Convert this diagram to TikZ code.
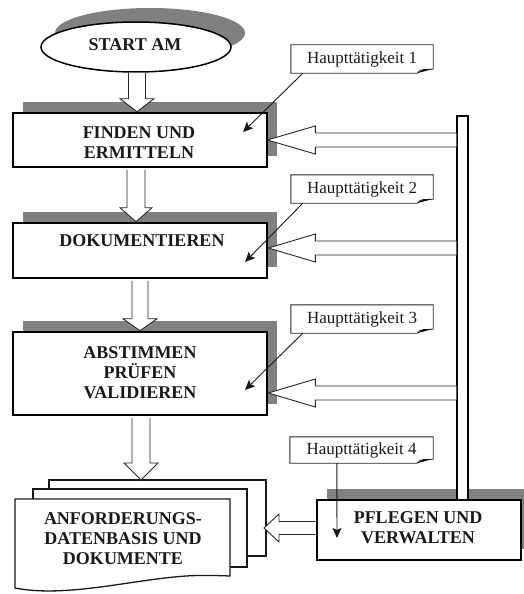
\documentclass[tikz,border=0pt]{standalone}
\usepackage{fontspec}
\setmainfont{Liberation Serif}
\usetikzlibrary{calc,shadows,shapes.geometric,arrows.meta}

\definecolor{shade}{gray}{0.5}

% hollow block arrow pointing down: shaft from the y of #1, tip at #2
\newcommand\downblock[5]{%
  \filldraw[blockline] let \p1=(#1), \p2=(#2) in
    (\x2-#3,\y1) -- (\x2-#3,\y2+#5) -- (\x2-#4,\y2+#5) -- (\x2,\y2)
    -- (\x2+#4,\y2+#5) -- (\x2+#3,\y2+#5) -- (\x2+#3,\y1);}

% hollow block arrow pointing left: shaft from the x of #1, tip at #2
\newcommand\leftblock[5]{%
  \filldraw[blockline] let \p1=(#1), \p2=(#2) in
    (\x1,\y2+#3) -- (\x2+#5,\y2+#3) -- (\x2+#5,\y2+#4) -- (\x2,\y2)
    -- (\x2+#5,\y2-#4) -- (\x2+#5,\y2-#3) -- (\x1,\y2-#3);}

% note box outline with a small curled corner at the lower right
\newcommand\notebox[1]{%
  \draw[noteline] (#1.north west) -- (#1.north east) -- ($(#1.south east)+(0,-4)$)
    -- ($(#1.south east)+(-10,-3.5)$) .. controls ($(#1.south east)+(-13,-3)$) .. ($(#1.south east)+(-16,0)$)
    -- (#1.south west) -- cycle;
  \fill ($(#1.south east)+(-16,0)$) -- ($(#1.south east)+(-10,-3.5)$) -- ($(#1.south east)+(-3,-3.5)$) -- cycle;}

\begin{document}
\begin{tikzpicture}[x=1pt,y=-1pt,
  boxfont/.style={font=\bfseries\fontsize{18}{20}\selectfont, align=center, text=black!90},
  stepbox/.style={draw, line width=2.6pt, fill=white, inner sep=0pt,
    drop shadow={shadow xshift=10pt, shadow yshift=11pt, opacity=1, fill=shade}},
  blockline/.style={draw=black!85, fill=white, line width=0.9pt, line join=miter},
  noteline/.style={draw=black!85, line width=0.9pt, fill=white},
  notetext/.style={font=\fontsize{17}{18}\selectfont, text=black!90, inner sep=0pt,
    minimum width=142pt, minimum height=28pt},
  pointer/.style={draw=black!90, line width=0.9pt, -{Stealth[length=10pt,width=9pt,inset=2pt]}},
  sheet/.style={draw=black!90, line width=1.3pt, fill=white, line join=miter}
]
\useasboundingbox (0,0) rectangle (523,594);

% start terminal
\node[ellipse, draw, line width=1.5pt, fill=white, minimum width=190pt, minimum height=50pt,
  inner sep=0pt, drop shadow={shadow xshift=14pt, shadow yshift=14pt, opacity=1, fill=shade}]
  (start) at (136,47) {};
\node[boxfont] (tstart) at (135,45) {START AM};

% main activities
\node[stepbox, minimum width=254pt, minimum height=54pt] (b1) at (140,140) {};
\node[boxfont] (t1) at (139,143) {FINDEN UND\\ERMITTELN};

\node[stepbox, minimum width=254pt, minimum height=55pt] (b2) at (140,250.5) {};
\node[boxfont] (t2) at (142,241) {DOKUMENTIEREN};

\node[stepbox, minimum width=254pt, minimum height=83pt] (b3) at (140,373.5) {};
\node[boxfont] (t3) at (140,373) {ABSTIMMEN\\PRÜFEN\\VALIDIEREN};

\node[stepbox, minimum width=204pt, minimum height=60pt] (pv) at (419,530) {};
\node[boxfont] (tpv) at (418,528) {PFLEGEN UND\\VERWALTEN};

% stacked documents
\draw[sheet] (49,556) -- (49,480) -- (266,480) -- (266,556) -- cycle;
\draw[sheet] (33,567) -- (33,489) -- (247,489) -- (247,567) -- cycle;
\draw[sheet] (15,588) -- (15,499) -- (230,499) -- (230,576)
  .. controls (205,575) and (190,575) .. (165,578)
  .. controls (120,583) and (60,597) .. (15,588) -- cycle;
\node[boxfont] (tdoc) at (123,539) {ANFORDERUNGS-\\DATENBASIS UND\\DOKUMENTE};

% flow between the steps
\coordinate (docin) at (141,480);
\downblock{start.south}{$(b1.north)+(-3,0)$}{8.5pt}{17pt}{13pt}
\downblock{$(b1.south)+(0,1.5)$}{$(b2.north)+(-4,0)$}{9pt}{16pt}{14pt}
\downblock{$(b2.south)+(0,1.5)$}{$(b3.north)+(0,0)$}{8pt}{17pt}{12pt}
\downblock{$(b3.south)+(0,1.5)$}{docin}{9pt}{17pt}{17pt}

% maintenance feeds back into every step
\coordinate (in1) at ($(b1.east)+(-1,0)$);
\coordinate (in2) at ($(b2.east)+(0,-2.5)$);
\coordinate (in3) at ($(b3.east)+(0,19.5)$);
\coordinate (inDoc) at (264,528);
\leftblock{$(pv.west)+(0,0)$}{inDoc}{6.5pt}{14pt}{15pt}
\node[draw, line width=1.2pt, fill=white, minimum width=11pt, minimum height=384pt,
  inner sep=0pt] (bar) at (462.5,308) {};
\leftblock{bar.west}{in1}{7pt}{14pt}{48pt}
\leftblock{bar.west}{in2}{7pt}{14pt}{47pt}
\leftblock{bar.west}{in3}{7pt}{14pt}{47pt}

% notes naming the main activities
\node[notetext] (c1) at (362,59) {};
\node[notetext] (c2) at (362,189) {};
\node[notetext] (c3) at (362,319) {};
\node[notetext, minimum width=143pt, minimum height=26pt] (c4) at (361.5,450) {};
\notebox{c1}\notebox{c2}\notebox{c3}\notebox{c4}
\node[notetext] (n1) at (362,59) {Haupttätigkeit 1};
\node[notetext] (n2) at (362,189) {Haupttätigkeit 2};
\node[notetext] (n3) at (362,319) {Haupttätigkeit 3};
\node[notetext] (n4) at (361.5,450) {Haupttätigkeit 4};

\coordinate (p1) at (243,132);
\coordinate (p2) at (245,262);
\coordinate (p3) at (245,390);
\coordinate (p4) at (337,538);
\draw[pointer] ($(c1.south west)+(12,0)$) -- (p1);
\draw[pointer] ($(c2.south west)+(12,0)$) -- (p2);
\draw[pointer] ($(c3.south west)+(12,0)$) -- (p3);
\draw[pointer] ($(c4.south west)+(47,0)$) -- (p4);
\end{tikzpicture}
\end{document}
